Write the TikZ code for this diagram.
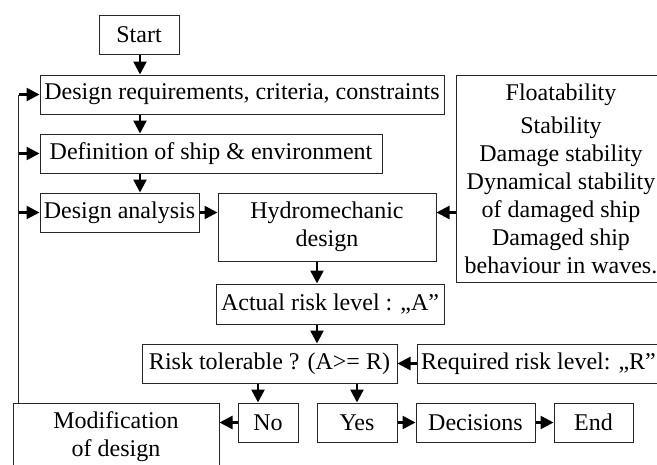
\documentclass[tikz,border=0pt]{standalone}
\usepackage{fontspec}
\setmainfont{Liberation Serif}
\usetikzlibrary{arrows.meta,calc}
\begin{document}
\begin{tikzpicture}[x=1pt,y=-1pt,
 box/.style={draw=black!85,line width=1pt,inner sep=0pt,align=center,font=\fontsize{24}{28}\selectfont},
 arr/.style={line width=2.5pt,-{Triangle[length=13pt,width=13pt]}},
 fbline/.style={draw=black!85,line width=1pt}
]
\useasboundingbox (0,0) rectangle (657,464);
\clip (0,0) rectangle (657,464);
\node[box,minimum width=80pt,minimum height=39pt] (start) at (139,34.5) {Start};
\node[box,minimum width=404pt,minimum height=39pt] (req) at (242,94.5) {Design requirements, criteria, constraints};
\node[box,minimum width=342pt,minimum height=39pt] (def) at (211,153.5) {Definition of ship \& environment};
\node[box,minimum width=159pt,minimum height=39pt] (ana) at (119.5,212.5) {Design analysis};
\node[box,minimum width=218pt,minimum height=68pt] (hyd) at (327,227) {Hydromechanic\\design};
\node[box,minimum width=210pt,minimum height=207pt] (flo) at (561,178.5) {Floatability\\[5pt]Stability\\Damage stability\\Dynamical stability\\of damaged ship\\Damaged ship\\behaviour in waves.};
\node[box,minimum width=228pt,minimum height=40pt] (act) at (330,304) {Actual risk level : „A”};
\node[box,minimum width=255pt,minimum height=39pt] (risk) at (269.5,363.5) {Risk tolerable ? (A>= R)};
\node[box,minimum width=243pt,minimum height=39pt] (reqr) at (538.5,363.5) {Required risk level: „R”};
\node[box,minimum width=60pt,minimum height=39pt] (no) at (268,422.5) {No};
\node[box,minimum width=80pt,minimum height=39pt] (yes) at (357,422.5) {Yes};
\node[box,minimum width=119pt,minimum height=39pt] (dec) at (475.5,422.5) {Decisions};
\node[box,minimum width=79pt,minimum height=39pt] (end) at (593.5,422.5) {End};
\node[box,minimum width=206pt,minimum height=68pt] (mod) at (116,437) {Modification\\of design};
% vertical flow
\draw[arr] ([xshift=1pt]start.south) -- ([xshift=-102pt]req.north);
\draw[arr] ([xshift=-102pt]req.south) -- ([xshift=-71pt]def.north);
\draw[arr] ([xshift=-71pt]def.south) -- ([xshift=20.5pt]ana.north);
\draw[arr] (ana.east) -- (hyd.west |- ana.east);
\draw[arr] (flo.west |- ana.east) -- (hyd.east |- ana.east);
\draw[arr] ([xshift=-10pt]hyd.south) -- ([xshift=-13pt]act.north);
\draw[arr] ([xshift=-13pt]act.south) -- ([xshift=47.5pt]risk.north);
\draw[arr] (reqr.west) -- (risk.east);
\draw[arr] ([xshift=-11.5pt]risk.south) -- ([xshift=-10pt]no.north);
\draw[arr] ([xshift=87.5pt]risk.south) -- (yes.north);
\draw[arr] (no.west) -- (no.west -| mod.east);
\draw[arr] (yes.east) -- (dec.west);
\draw[arr] (dec.east) -- (end.west);
% feedback
\coordinate (fb) at ($(mod.north west)+(6,0)$);
\draw[fbline] (fb) -- (fb |- req.west);
\draw[arr] (fb |- req.west) -- (req.west);
\draw[arr] (fb |- def.west) -- (def.west);
\draw[arr] (fb |- ana.west) -- (ana.west);
\end{tikzpicture}
\end{document}
